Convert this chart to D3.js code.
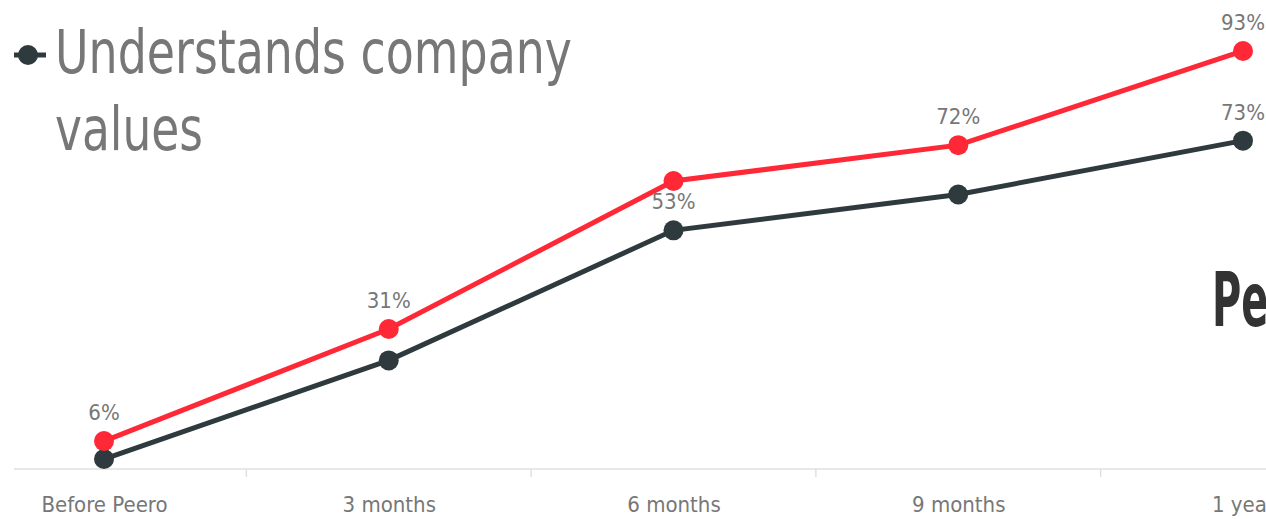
<!DOCTYPE html>
<html>
<head>
<meta charset="utf-8">
<script src="https://cdn.jsdelivr.net/npm/d3@7"></script>
<style>
  html, body { margin: 0; padding: 0; background: #fff; overflow: hidden; }
  svg { display: block; }
  .thin { font-family: "DejaVu Sans Condensed", "Liberation Sans Narrow", "Roboto", sans-serif; font-stretch: condensed; }
</style>
</head>
<body>
<div id="chart"></div>
<script>
// categories along the x axis
var periods = ["Before Peero", "3 months", "6 months", "9 months", "1 year"];
// Peero series (red)
var peeroValues = [6, 31, 64, 72, 93];
// Understands company values (dark)
var valuesValues = [2, 24, 53, 61, 73];
// which labels are visible in the picture
var peeroShown = [true, true, false, true, true];
var valuesShown = [false, false, true, false, true];

var width = 1266, height = 519;
var red = "#ff2837", dark = "#2e3a3d";

var svg = d3.select("#chart")
    .append("svg")
    .attr("width", width)
    .attr("height", height);

var x = d3.scalePoint().domain(periods).range([104, 1243]);
var y = d3.scaleLinear().domain([0, 100]).range([468, 19.6]);
var step = x.step();

// axis
var axis = d3.axisBottom(x).tickSize(0).tickPadding(27);
var gx = svg.append("g")
    .attr("class", "thin")
    .attr("transform", "translate(0,469)")
    .call(axis);
gx.select(".domain").remove();
gx.selectAll("text")
    .attr("fill", "#777")
    .style("font-size", "22px");

svg.append("line")
    .attr("x1", 14).attr("x2", width)
    .attr("y1", 469).attr("y2", 469)
    .attr("stroke", "#e0e0e0").attr("stroke-width", 1.5);

svg.selectAll(".tick-mark")
    .data(periods.slice(1))
    .enter().append("line")
    .attr("class", "tick-mark")
    .attr("x1", d => x(d) - step / 2).attr("x2", d => x(d) - step / 2)
    .attr("y1", 469).attr("y2", 477)
    .attr("stroke", "#e0e0e0").attr("stroke-width", 1.5);

function drawSeries(vals, color) {
  var line = d3.line()
      .x((d, i) => x(periods[i]))
      .y(d => y(d));
  svg.append("path")
    .attr("fill", "none")
    .attr("stroke", color)
    .attr("stroke-width", 5)
    .attr("d", line(vals));
  svg.selectAll(null)
    .data(vals)
    .enter().append("circle")
    .attr("cx", (d, i) => x(periods[i]))
    .attr("cy", d => y(d))
    .attr("r", 10)
    .attr("fill", color);
}

drawSeries(valuesValues, dark);
drawSeries(peeroValues, red);

function drawLabels(vals, shown) {
  svg.selectAll(null)
    .data(vals.map((v, i) => ({v: v, i: i})).filter(d => shown[d.i]))
    .enter().append("text")
    .attr("class", "thin")
    .attr("x", d => x(periods[d.i]))
    .attr("y", d => y(d.v) - 21)
    .attr("text-anchor", "middle")
    .attr("fill", "#777")
    .style("font-size", "22px")
    .text(d => d.v + "%");
}
drawLabels(peeroValues, peeroShown);
drawLabels(valuesValues, valuesShown);

// legend
var leg = svg.append("g");
leg.append("line")
  .attr("x1", 14).attr("x2", 46).attr("y1", 55).attr("y2", 55)
  .attr("stroke", dark).attr("stroke-width", 5);
leg.append("circle").attr("cx", 28).attr("cy", 55).attr("r", 10).attr("fill", dark);
var lt = leg.append("text")
  .attr("class", "thin")
  .attr("fill", "#777")
  .style("font-size", "60px");
lt.append("tspan").attr("x", 55).attr("y", 73).text("Understands company")
  .attr("textLength", 517).attr("lengthAdjust", "spacingAndGlyphs");
lt.append("tspan").attr("x", 55).attr("y", 150).text("values")
  .attr("textLength", 148).attr("lengthAdjust", "spacingAndGlyphs");

// second legend entry, cut off by the right edge
svg.append("text")
  .attr("transform", "translate(1212,326) scale(0.6,1)")
  .attr("fill", "#333")
  .style("font-family", "'DejaVu Sans Condensed', 'Liberation Sans Narrow', sans-serif")
  .style("font-stretch", "condensed")
  .style("font-weight", "bold")
  .style("font-size", "74px")
  .text("Peero");
</script>
</body>
</html>
